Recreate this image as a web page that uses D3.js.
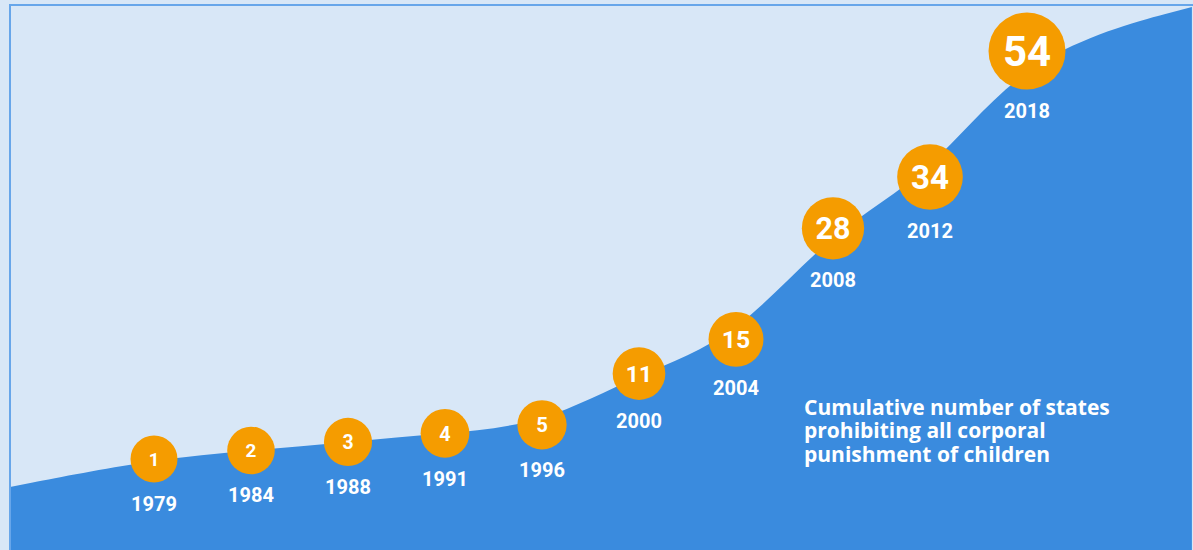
<!DOCTYPE html>
<html>
<head>
<meta charset="utf-8">
<script src="https://cdn.jsdelivr.net/npm/d3@7"></script>
<style>
  html, body { margin: 0; padding: 0; background: #d8e7f7; overflow: hidden; }
  text { font-family: Roboto, 'Noto Sans', sans-serif; font-weight: 700; fill: #fff; }
  .caption { font-family: 'Open Sans', Roboto, sans-serif; }
</style>
</head>
<body>
<svg id="chart" width="1193" height="550"></svg>
<script>
/* ----------  DATA  ---------- */
const years = ['1979', '1984', '1988', '1991', '1996', '2000', '2004', '2008', '2012', '2018']
const states = [1, 2, 3, 4, 5, 11, 15, 28, 34, 54]
// ends of the background trend area, in (position index, states)
const trendStart = [-1.5, -2.3]
const trendEnd = [10.7, 61]
const captionLines = [
  'Cumulative number of states',
  'prohibiting all corporal',
  'punishment of children'
]

/* ----------  SETUP  ---------- */
const W = 1193
const H = 550
const svg = d3.select('#chart')

const x = d3.scaleLinear().domain([0, years.length - 1]).range([154, 1027])
// top circle gets squeezed under the frame, hence the bend at 34
const y = d3.scaleLinear().domain([1, 34, 54]).range([459, 177, 51])
const r = d3.scaleLinear().domain([1, 54]).range([23.5, 38.5])
const fs = d3.scaleLinear().domain([1, 54]).range([18.5, 42])

svg.append('defs').append('clipPath')
  .attr('id', 'frameClip')
  .append('rect')
  .attr('x', 10).attr('y', 5)
  .attr('width', W).attr('height', H)

/* ----------  AREA  ---------- */
const pts = [trendStart].concat(states.map((v, i) => [i, v]), [trendEnd])

const area = d3.area()
  .x(d => x(d[0]))
  .y0(H + 10)
  .y1(d => y(d[1]))
  .curve(d3.curveBasis)

svg.append('path')
  .datum(pts)
  .attr('clip-path', 'url(#frameClip)')
  .attr('d', area)
  .attr('fill', '#3a8bde')

/* ----------  FRAME  ---------- */
svg.append('rect')
  .attr('x', 10).attr('y', 5)
  .attr('width', W + 20).attr('height', H + 20)
  .attr('fill', 'none')
  .attr('stroke', '#67a6ea')
  .attr('stroke-width', 2)

/* ----------  BUBBLES  ---------- */
const g = svg.selectAll('.bubble')
  .data(states)
  .enter().append('g')
  .attr('class', 'bubble')
  .attr('transform', (d, i) => `translate(${x(i)}, ${y(d)})`)

g.append('circle')
  .attr('r', d => r(d))
  .attr('fill', '#f59c00')

g.append('text')
  .attr('text-anchor', 'middle')
  .attr('dy', '0.36em')
  .style('font-size', d => fs(d) + 'px')
  .text(d => d)

g.append('text')
  .attr('text-anchor', 'middle')
  .attr('y', d => r(d) + 28)
  .style('font-size', '20px')
  .text((d, i) => years[i])

/* ----------  CAPTION  ---------- */
svg.append('text')
  .attr('class', 'caption')
  .attr('x', 804)
  .attr('y', 415)
  .style('font-size', '21px')
  .selectAll('tspan')
  .data(captionLines)
  .enter().append('tspan')
  .attr('x', 804)
  .attr('dy', (d, i) => i ? 23.3 : 0)
  .text(d => d)
</script>
</body>
</html>
